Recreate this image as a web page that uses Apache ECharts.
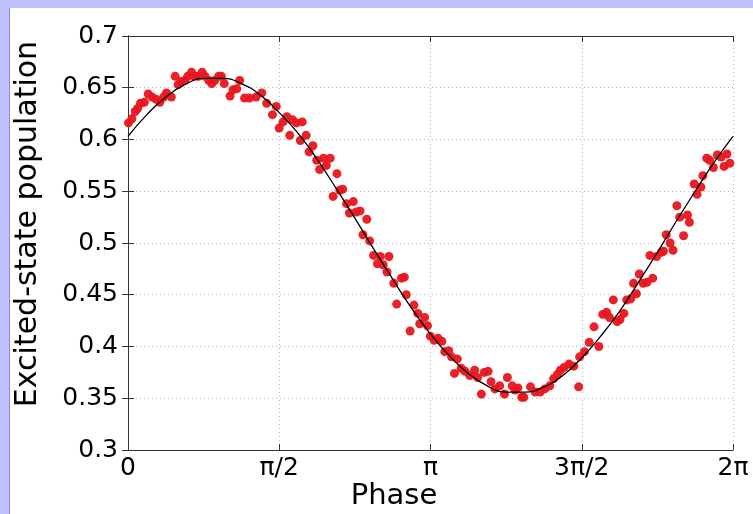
<!DOCTYPE html>
<html>
<head>
<meta charset="utf-8">
<script src="https://cdn.jsdelivr.net/npm/echarts@6/dist/echarts.min.js"></script>
<style>
html,body{margin:0;padding:0;background:#fff;}
#chart{width:753px;height:514px;}
</style>
</head>
<body>
<div id="chart"></div>
<script>
// Measured points (phase in radians, excited-state population)
const phaseRad = [
0.005,0.04,0.075,0.10,0.13,0.17,0.21,0.25,0.29,0.33,0.37,0.40,0.45,0.49,0.52,0.55,0.59,0.62,0.66,0.69,0.73,0.77,0.80,0.84,0.87,0.90,0.94,0.97,1.00,1.06,1.09,1.13,1.16,1.21,1.26,
1.33,1.39,1.44,1.50,1.54,1.57,1.61,1.65,1.68,1.71,1.75,1.79,1.81,1.85,1.88,1.92,1.96,1.99,2.03,2.06,2.10,2.13,2.17,2.20,2.23,2.27,2.30,2.34,2.37,2.41,2.44,2.48,2.51,2.55,2.59,2.62,2.65,2.69,2.71,
2.76,2.84,2.87,2.79,2.89,2.93,2.97,3.01,3.03,3.08,3.11,3.14,3.18,3.22,3.26,3.29,3.33,3.36,3.39,3.42,3.46,3.50,3.55,3.60,3.63,3.67,3.70,3.74,3.77,3.81,3.86,3.91,3.94,3.99,4.02,4.05,4.09,
4.11,4.18,4.23,4.28,4.33,4.38,4.42,4.46,4.49,4.53,4.58,4.63,4.68,4.69,4.74,4.79,4.84,4.89,4.93,4.97,5.00,5.04,5.08,5.11,5.15,5.18,5.22,5.25,5.28,5.31,5.35,5.39,5.42,5.45,5.49,
5.54,5.56,5.59,5.63,5.66,5.70,5.73,5.77,5.81,5.83,5.88,5.91,5.95,5.97,6.01,6.04,6.08,6.12,6.16,6.19,6.22,6.25
];
const population = [
0.616,0.620,0.627,0.630,0.635,0.636,0.644,0.641,0.639,0.636,0.641,0.645,0.641,0.661,0.653,0.656,0.657,0.661,0.665,0.661,0.661,0.665,0.661,0.657,0.654,0.657,0.661,0.661,0.654,0.642,0.648,0.649,0.657,0.640,0.640,
0.641,0.645,0.635,0.624,0.632,0.611,0.617,0.622,0.604,0.619,0.616,0.599,0.617,0.604,0.588,0.594,0.580,0.571,0.582,0.575,0.582,0.545,0.567,0.551,0.552,0.538,0.529,0.540,0.530,0.531,0.508,0.523,0.502,0.488,0.480,0.487,0.479,0.472,0.487,
0.461,0.466,0.467,0.441,0.450,0.415,0.440,0.432,0.422,0.428,0.420,0.410,0.406,0.408,0.405,0.395,0.396,0.390,0.374,0.388,0.379,0.376,0.372,0.377,0.370,0.354,0.375,0.376,0.366,0.359,0.362,0.354,0.370,0.362,0.358,0.360,0.351,
0.351,0.361,0.356,0.356,0.359,0.362,0.369,0.373,0.377,0.380,0.383,0.381,0.361,0.390,0.395,0.404,0.419,0.400,0.431,0.433,0.428,0.445,0.424,0.426,0.432,0.445,0.446,0.461,0.451,0.470,0.461,0.462,0.488,0.466,0.487,
0.491,0.492,0.508,0.500,0.493,0.536,0.525,0.507,0.527,0.520,0.557,0.547,0.554,0.565,0.582,0.580,0.573,0.585,0.583,0.574,0.586,0.577
];
// Fitted curve
const fitPhaseRad = [0,0.196,0.393,0.589,0.785,0.982,1.178,1.374,1.571,1.767,1.963,2.160,2.356,2.553,2.749,2.945,3.142,3.338,3.534,3.731,3.927,4.123,4.320,4.516,4.712,4.909,5.105,5.301,5.498,5.694,5.890,6.087,6.283];
const fitPopulation = [0.603,0.624,0.641,0.653,0.659,0.659,0.654,0.643,0.626,0.606,0.581,0.553,0.524,0.494,0.465,0.437,0.412,0.391,0.374,0.362,0.356,0.356,0.361,0.372,0.389,0.410,0.434,0.462,0.491,0.521,0.550,0.578,0.603];
const xTickLabels = ['0','π/2','π','3π/2','2π'];
const xTitle = 'Phase';
const yTitle = 'Excited-state population';

const toPi = r => r / Math.PI;
const scatterData = phaseRad.map((p, i) => [toPi(p), population[i]]);
const fitData = fitPhaseRad.map((p, i) => [toPi(p), fitPopulation[i]]);

const FONT = '"DejaVu Sans", "Liberation Sans", Arial, sans-serif';
const axisColor = '#333';
const gridStyle = { show: true, lineStyle: { type: [1, 3], color: '#b8b8b8', width: 1 } };

const chart = echarts.init(document.getElementById('chart'), null, { renderer: 'canvas' });
chart.setOption({
  animation: false,
  backgroundColor: '#ffffff',
  grid: { left: 128, right: 20, top: 36, bottom: 64 },
  graphic: [
    { type: 'rect', shape: { x: 0, y: 0, width: 753, height: 8 }, style: { fill: '#c0c0fb' }, z: 100 },
    { type: 'rect', shape: { x: 0, y: 0, width: 10, height: 514 }, style: { fill: '#c0c0fb' }, z: 100 },
    { type: 'rect', shape: { x: 9, y: 8, width: 1, height: 506 }, style: { fill: '#8c8ce0' }, z: 101 },
    { type: 'text', x: 28, y: 224, rotation: Math.PI / 2,
      style: { text: yTitle, fontSize: 30, fontFamily: FONT, fill: '#000', align: 'center', verticalAlign: 'middle' } },
    { type: 'text', x: 394, y: 496,
      style: { text: xTitle, fontSize: 29, fontFamily: FONT, fill: '#000', align: 'center', verticalAlign: 'middle' } }
  ],
  xAxis: [
    {
      type: 'value', min: 0, max: 2, interval: 0.5, position: 'bottom',
      axisLine: { show: true, lineStyle: { color: axisColor, width: 1 } },
      axisTick: { show: true, inside: true, length: 6, lineStyle: { color: axisColor } },
      axisLabel: { show: true, margin: 6, fontSize: 25, fontFamily: FONT, color: '#000',
        formatter: v => xTickLabels[Math.round(v / 0.5)] },
      splitLine: gridStyle
    },
    {
      type: 'value', min: 0, max: 2, interval: 0.5, position: 'top',
      axisLine: { show: true, lineStyle: { color: axisColor, width: 1 } },
      axisTick: { show: true, inside: true, length: 6, lineStyle: { color: axisColor } },
      axisLabel: { show: false }, splitLine: { show: false }
    }
  ],
  yAxis: [
    {
      type: 'value', min: 0.3, max: 0.7, interval: 0.05, position: 'left',
      axisLine: { show: true, lineStyle: { color: axisColor, width: 1 } },
      axisTick: { show: true, inside: true, length: 6, lineStyle: { color: axisColor } },
      axisLabel: { show: true, margin: 10, fontSize: 25, fontFamily: FONT, color: '#000',
        formatter: v => String(Math.round(v * 100) / 100) },
      splitLine: gridStyle
    },
    {
      type: 'value', min: 0.3, max: 0.7, interval: 0.05, position: 'right',
      axisLine: { show: true, lineStyle: { color: axisColor, width: 1 } },
      axisTick: { show: true, inside: true, length: 6, lineStyle: { color: axisColor } },
      axisLabel: { show: false }, splitLine: { show: false }
    }
  ],
  series: [
    {
      type: 'scatter', name: 'data', data: scatterData, symbol: 'circle', symbolSize: 9,
      itemStyle: { color: '#e8161e', opacity: 0.95 }, z: 2, clip: false
    },
    {
      type: 'line', name: 'fit', data: fitData, smooth: true, showSymbol: false, symbol: 'none',
      lineStyle: { color: '#000', width: 1.3 }, z: 3
    }
  ]
});
</script>
</body>
</html>
